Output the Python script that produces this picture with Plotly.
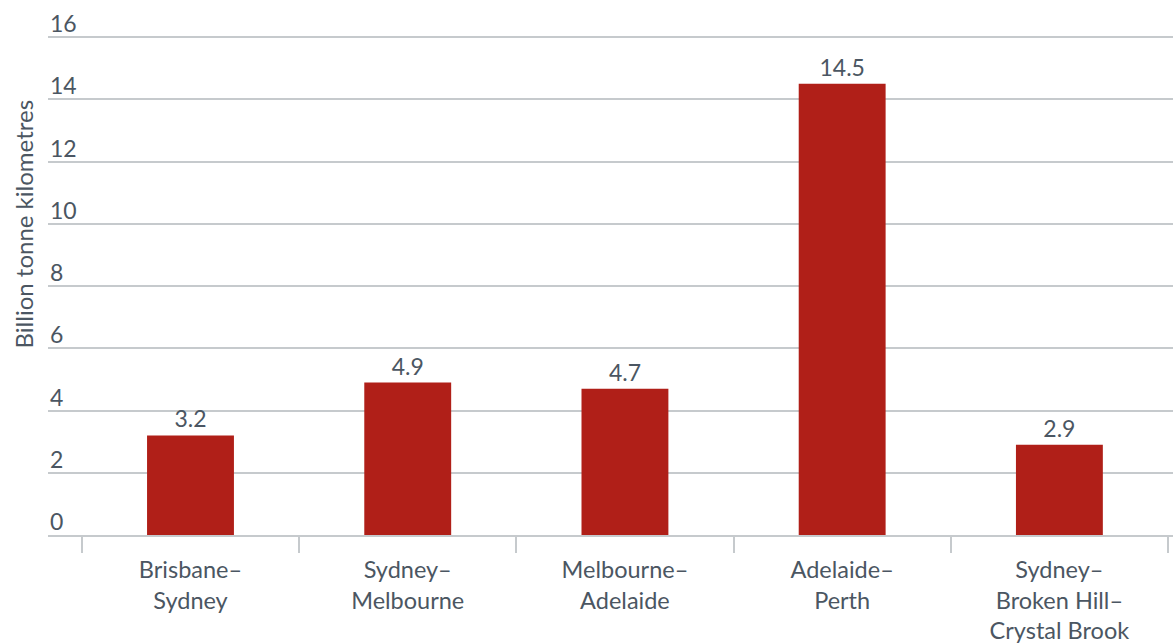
import plotly.graph_objects as go

# Freight task by interstate rail corridor
corridors = [
    "Brisbane–<br>Sydney",
    "Sydney–<br>Melbourne",
    "Melbourne–<br>Adelaide",
    "Adelaide–<br>Perth",
    "Sydney–<br>Broken Hill–<br>Crystal Brook",
]
tonne_km_billion = [3.2, 4.9, 4.7, 14.5, 2.9]
y_ticks = [0, 2, 4, 6, 8, 10, 12, 14, 16]

FONT = "Lato, 'Open Sans', sans-serif"
TEXT = "#4b5662"
GRID = "#c6cacd"
BAR = "#b01f18"

fig = go.Figure(
    go.Bar(
        x=corridors,
        y=tonne_km_billion,
        width=0.4,
        marker=dict(color=BAR, line=dict(width=0)),
        text=[f"{v:.1f}" for v in tonne_km_billion],
        textposition="outside",
        textfont=dict(family=FONT, size=23, color=TEXT),
        cliponaxis=False,
    )
)

# Tick values sit just above their gridlines, flush left
annotations = [
    dict(
        x=0, xref="paper", y=v, yref="y",
        text=str(v), showarrow=False,
        xanchor="left", yanchor="bottom", yshift=-2,
        font=dict(family=FONT, size=23, color=TEXT),
    )
    for v in y_ticks
]
annotations.append(
    dict(
        x=-0.0222, xref="paper", y=0.62, yref="paper",
        text="Billion tonne kilometres", showarrow=False, textangle=-90,
        xanchor="center", yanchor="middle",
        font=dict(family=FONT, size=24, color=TEXT),
    )
)

fig.update_layout(
    width=1173, height=644,
    margin=dict(l=48, r=0, t=34, b=109, autoexpand=False),
    paper_bgcolor="white", plot_bgcolor="white",
    showlegend=False,
    annotations=annotations,
    xaxis=dict(
        type="category",
        range=[-0.656, 4.523],
        tickson="boundaries",
        ticks="outside", ticklen=16, tickwidth=1.5, tickcolor=GRID,
        ticklabelstandoff=13,
        showline=True, linecolor=GRID, linewidth=1.5,
        showgrid=False, zeroline=False,
        tickfont=dict(family=FONT, size=23.5, color=TEXT),
        automargin=False,
        fixedrange=True,
    ),
    yaxis=dict(
        range=[0, 16.1],
        tickvals=y_ticks,
        showticklabels=False,
        showgrid=True, gridcolor=GRID, gridwidth=1.5,
        zeroline=False, showline=False,
        automargin=False,
        fixedrange=True,
    ),
)

fig.write_html("out.html")
